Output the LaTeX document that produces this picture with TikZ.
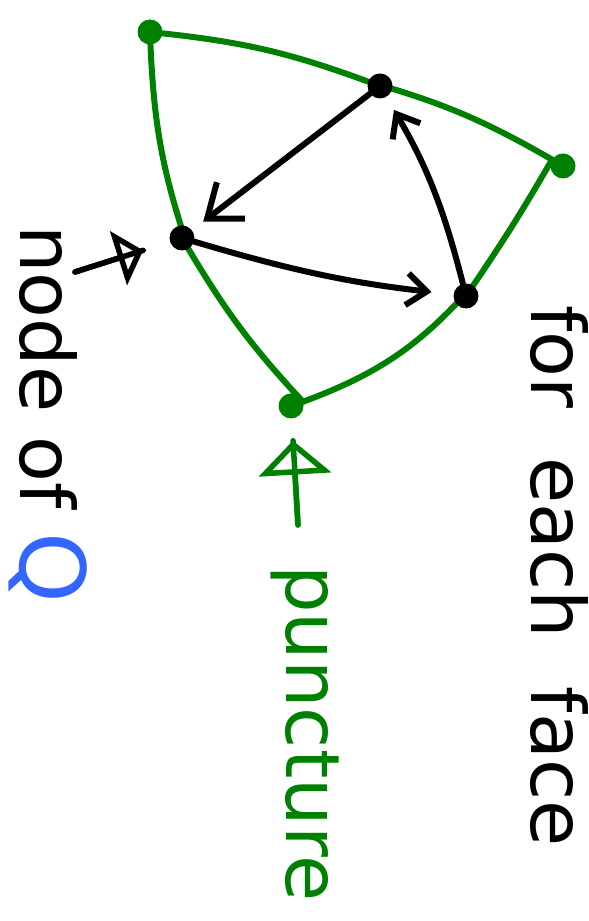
\documentclass[tikz,border=0pt]{standalone}
\usepackage{fontspec}
\setmainfont{DejaVu Sans}
\usetikzlibrary{arrows.meta, backgrounds}
\definecolor{punctgreen}{RGB}{0,128,0}
\definecolor{quiverblue}{RGB}{51,102,255}

\begin{document}
\begin{tikzpicture}[x=1pt, y=1pt,
  punct/.style={circle, fill=punctgreen, inner sep=0pt, minimum size=25pt},
  qnode/.style={circle, fill=black, inner sep=0pt, minimum size=25pt},
  faceedge/.style={punctgreen, line width=6pt, line cap=round},
  qarrow/.style={line width=6pt, line cap=round, line join=round,
    -{Straight Barb[length=20pt, width=32pt]}},
  pointer/.style={line width=5.5pt, line cap=round, line join=round,
    postaction={draw, -}},
  handtext/.style={rotate=-90, anchor=base west, inner sep=0pt,
    font=\fontsize{75}{75}\selectfont}]

  % page frame (sketch is 589 x 921)
  \useasboundingbox (0,0) rectangle (589,921);

  % punctures = corners of the face
  \node[punct] (pa) at (150,889) {};
  \node[punct] (pb) at (563,755) {};
  \node[punct] (pc) at (291,515) {};

  % nodes of Q, one on each side of the face
  \node[qnode] (q1) at (380,835) {};
  \node[qnode] (q2) at (182,683) {};
  \node[qnode] (q3) at (466,625) {};

  % boundary of the face
  \begin{scope}[on background layer]
    \draw[faceedge] (pa) to[bend left=7] (q1) to[bend left=7] (pb)
      to[bend left=2] (q3) to[bend left=14] (pc)
      to[bend left=6] (q2) to[bend left=8] (pa);
  \end{scope}

  % arrows of Q inside the face
  \draw[qarrow, -{Straight Barb[length=30pt, width=46pt]}, shorten >=14pt] (q1) -- (q2);
  \draw[qarrow, shorten >=22pt] (q2) to[bend right=5] (q3);
  \draw[qarrow, shorten >=15pt] (q3) to[bend right=8] (q1);

  % pointers to the labels
  \coordinate (qtail) at (75,649);
  \coordinate (ptail) at (298,396);
  \draw[pointer, -{Triangle[open, length=26pt, width=56pt]}, shorten >=28pt] (qtail) -- (q2);
  \draw[pointer, punctgreen, -{Triangle[open, length=34pt, width=72pt]}, shorten >=22pt] (ptail) -- (pc);

  % labels
  \node[handtext] (facelabel) at (531,616) {for\hspace{25pt} each\hspace{25pt} face};
  \node[handtext, punctgreen] (punctlabel) at (286,356) {puncture};
  \node[handtext] (nodelabel) at (20,696)
    {node of {\color{quiverblue}\fontsize{90}{90}\selectfont Q}};
\end{tikzpicture}
\end{document}
